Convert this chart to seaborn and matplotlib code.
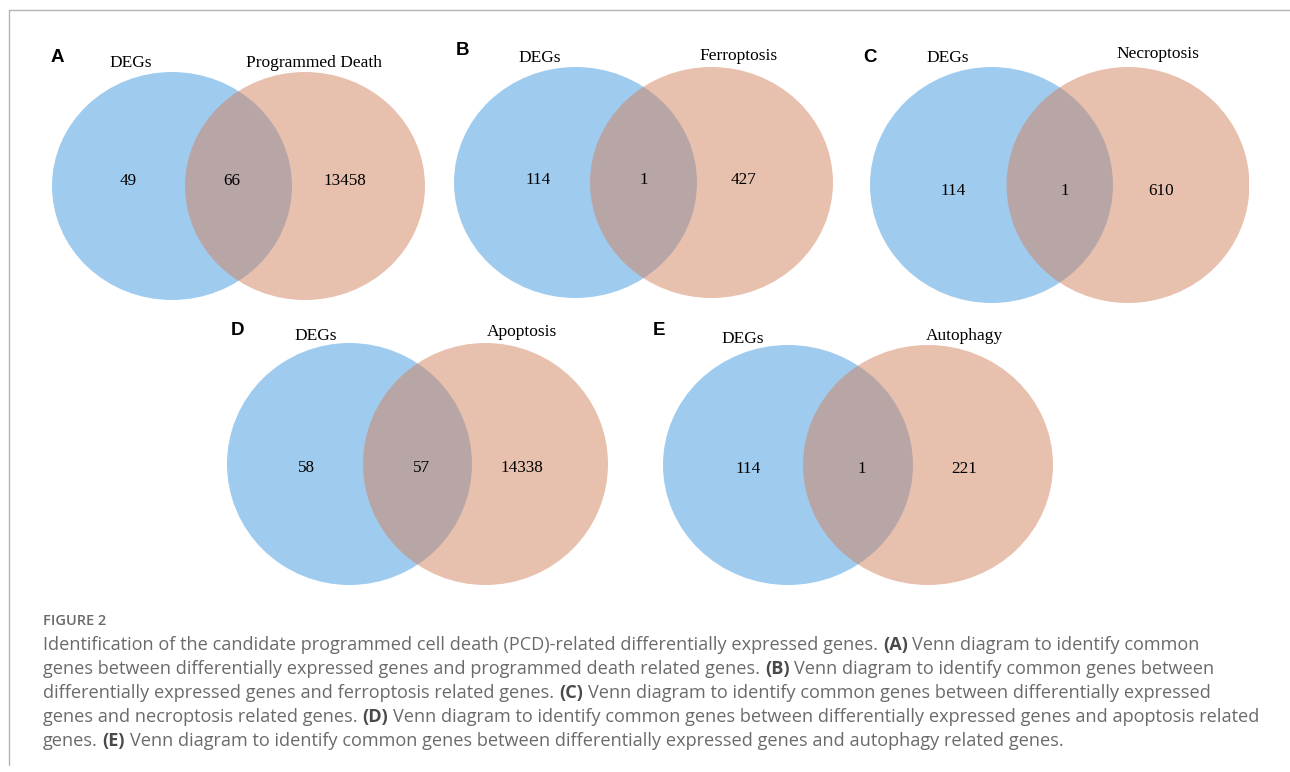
import matplotlib
matplotlib.use("Agg")
import matplotlib.pyplot as plt
from matplotlib.patches import Ellipse
from matplotlib.lines import Line2D
import seaborn as sns

# ---------------- data ----------------
panel_letters = ["A", "B", "C", "D", "E"]
left_sets = ["DEGs", "DEGs", "DEGs", "DEGs", "DEGs"]
right_sets = ["Programmed Death", "Ferroptosis", "Necroptosis", "Apoptosis", "Autophagy"]
left_only = [49, 114, 114, 58, 114]
shared = [66, 1, 1, 57, 1]
right_only = [13458, 427, 610, 14338, 221]

caption_title = "FIGURE 2"
caption_lines = [
    "Identification of the candidate programmed cell death (PCD)-related differentially expressed genes. **(A)** Venn diagram to identify common",
    "genes between differentially expressed genes and programmed death related genes. **(B)** Venn diagram to identify common genes between",
    "differentially expressed genes and ferroptosis related genes. **(C)** Venn diagram to identify common genes between differentially expressed",
    "genes and necroptosis related genes. **(D)** Venn diagram to identify common genes between differentially expressed genes and apoptosis related",
    "genes. **(E)** Venn diagram to identify common genes between differentially expressed genes and autophagy related genes.",
]

# ---------------- layout (pixels) ----------------
W, H = 1290, 772
# midpoint between the two circles, vertical centre, x radius, y radius, centre distance
panel_geom = [
    (238.5, 186.0, 120.0, 114.0, 133.0),
    (643.5, 182.5, 121.5, 115.5, 136.0),
    (1059.75, 185.0, 121.5, 118.0, 136.5),
    (417.5, 464.0, 122.5, 121.0, 136.0),
    (858.0, 465.0, 125.0, 120.0, 140.0),
]
# text offsets from the panel midpoint (x to the right, y upward, baseline)
letter_pos = [(-181, 124), (-181, 127.5), (-190, 123), (-179.5, 129), (-199, 130)]
left_name_pos = [(-107.5, 119), (-103.5, 120.5), (-112, 123), (-101.5, 124), (-115.5, 122)]
right_name_pos = [(75, 119), (95.5, 122.5), (98, 127), (104.5, 128), (106.5, 125)]
count_x = [(-110.5, -6.5, 106.5), (-105, 0, 100.5), (-107, 5, 101), (-111, 4, 104), (-109.5, 3.5, 106.5)]
count_y = [1, -1.5, -10, -8, -8]

caption_x = 43
caption_title_y = 625
caption_base_y = [650, 674, 698, 722, 746]

sns.set_theme(style="white")
palette = sns.color_palette(["#4199E1", "#D1835F"])
serif = ["Liberation Serif", "DejaVu Serif"]

fig = plt.figure(figsize=(W / 100, H / 100), dpi=100)
fig.patch.set_facecolor("white")

for i in range(len(panel_letters)):
    mx, cy, rx, ry, sep = panel_geom[i]
    half_w = sep / 2 + rx
    ax = fig.add_axes([(mx - half_w) / W, 1 - (cy + ry) / H, 2 * half_w / W, 2 * ry / H])
    ax.set_xlim(-half_w, half_w)
    ax.set_ylim(-ry, ry)
    ax.axis("off")

    ax.add_patch(Ellipse((-sep / 2, 0), 2 * rx, 2 * ry, facecolor=palette[0],
                         alpha=0.5, linewidth=0))
    ax.add_patch(Ellipse((sep / 2, 0), 2 * rx, 2 * ry, facecolor=palette[1],
                         alpha=0.5, linewidth=0))

    lx, ly = letter_pos[i]
    ax.text(lx, ly, panel_letters[i], ha="center", va="baseline", fontsize=13.5,
            fontweight="bold", family=["Liberation Sans", "DejaVu Sans"], color="black")
    nx, ny = left_name_pos[i]
    ax.text(nx, ny, left_sets[i], ha="center", va="baseline", fontsize=12.5,
            family=serif, color="black")
    nx, ny = right_name_pos[i]
    ax.text(nx, ny, right_sets[i], ha="center", va="baseline", fontsize=12.5,
            family=serif, color="black")
    for x, val in zip(count_x[i], (left_only[i], shared[i], right_only[i])):
        ax.text(x, count_y[i], str(val), ha="center", va="baseline", fontsize=12.3,
                family=serif, color="black")

# frame lines along the top and left edges
fig.add_artist(Line2D([9 / W, 1.0], [1 - 10 / H, 1 - 10 / H], color="#b4b4b4", lw=1.0))
fig.add_artist(Line2D([9 / W, 9 / W], [1 - 10 / H, 1 - 765 / H], color="#b4b4b4", lw=1.0))

# caption
cap_font = ["Open Sans", "DejaVu Sans"]
fig.text(caption_x / W, 1 - caption_title_y / H, caption_title, ha="left", va="baseline",
         fontsize=10.5, fontweight="semibold", family=cap_font, color="#6a6a6a")

renderer = fig.canvas.get_renderer()
cap_size = 13.05


def text_width(s, weight):
    t = fig.text(0, 0, s, fontsize=cap_size, family=cap_font, fontweight=weight)
    w = t.get_window_extent(renderer).width
    t.remove()
    return w


space_w = text_width("n n", "normal") - text_width("nn", "normal")

for line, yb in zip(caption_lines, caption_base_y):
    x = caption_x
    for k, part in enumerate(line.split("**")):
        if not part:
            continue
        weight = "bold" if k % 2 else "normal"
        color = "#4a4a4a" if k % 2 else "#6a6a6a"
        lead = len(part) - len(part.lstrip(" "))
        trail = len(part) - len(part.rstrip(" "))
        core = part.strip(" ")
        x += lead * space_w
        t = fig.text(x / W, 1 - yb / H, core, ha="left", va="baseline", fontsize=cap_size,
                     family=cap_font, fontweight=weight, color=color)
        x += t.get_window_extent(renderer).width + trail * space_w

fig.savefig("out.png", dpi=100, facecolor="white")
